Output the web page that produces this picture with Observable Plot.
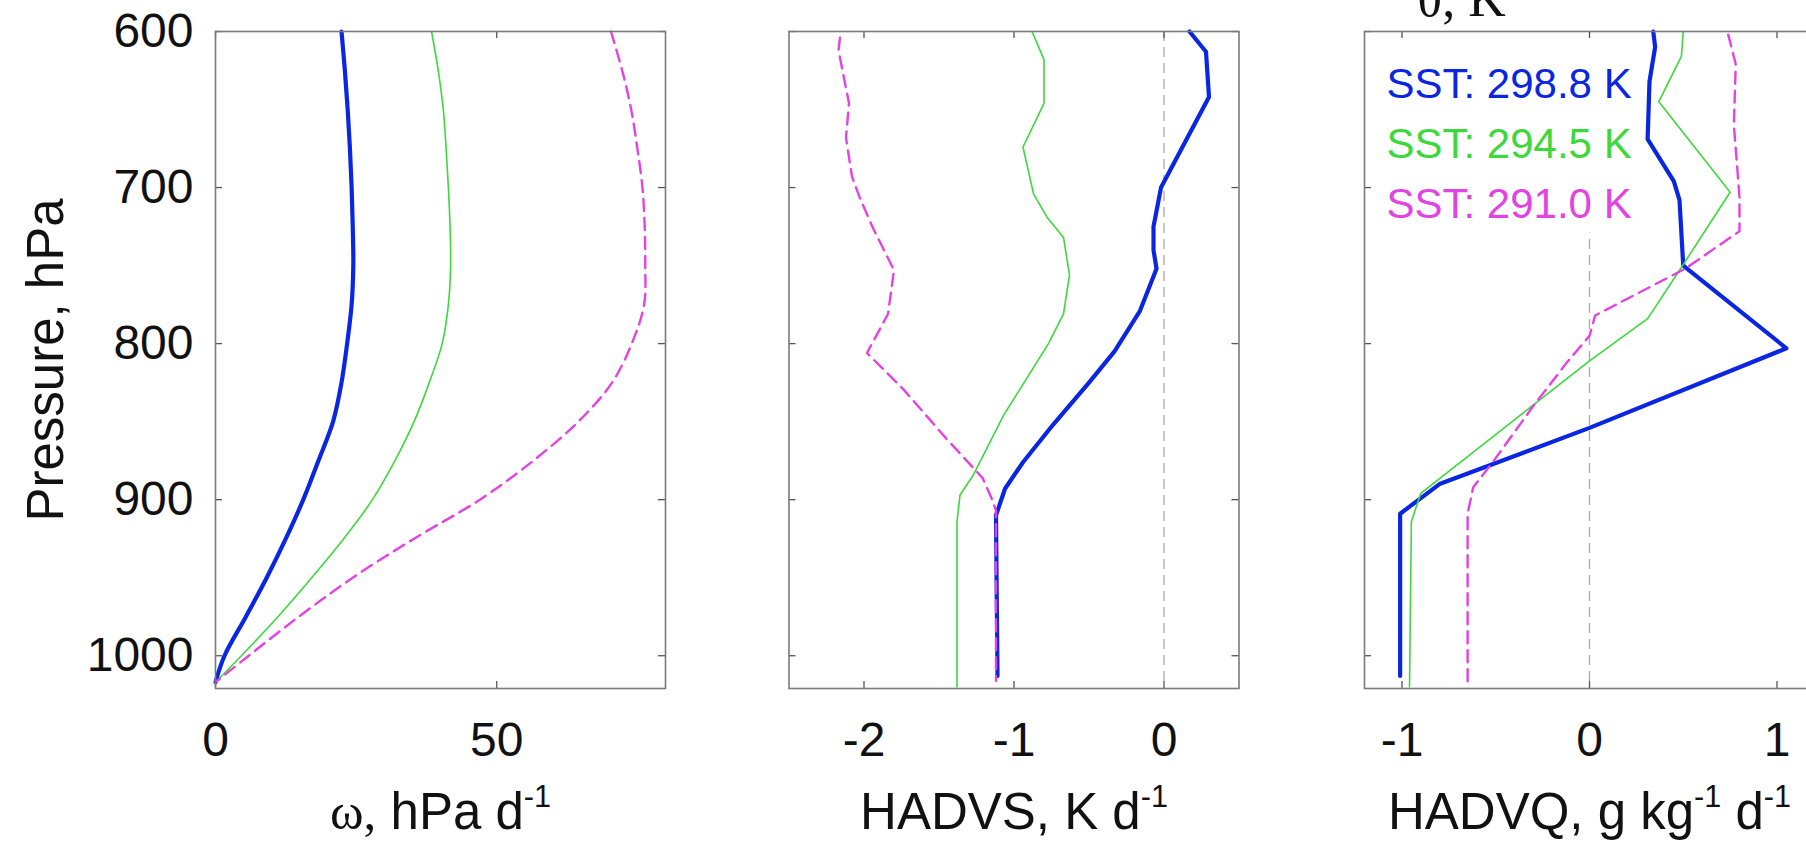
<!DOCTYPE html>
<html>
<head>
<meta charset="utf-8">
<script src="https://cdn.jsdelivr.net/npm/d3@7"></script>
<script src="https://cdn.jsdelivr.net/npm/@observablehq/plot@0.6"></script>
<style>
html, body { margin: 0; padding: 0; background: #fff; overflow: hidden; }
#chart { position: relative; width: 1806px; height: 855px; overflow: hidden; background: #fff; }
#chart svg { position: absolute; top: 0; }
</style>
</head>
<body>
<div id="chart"></div>
<script>
// ---------------- data ----------------
const pressureTicks = [600, 700, 800, 900, 1000];
const pressureDomain = [600, 1021];

const sstLabels = ["SST: 298.8 K", "SST: 294.5 K", "SST: 291.0 K"];
const sstColors = ["#0a26e2", "#3cd83c", "#e243e2"];

// Panel 1: omega (hPa/day)
const omegaTicks = [0, 50];
const omegaDomain = [0, 80];
const omegaP   = [600, 625, 650, 675, 700, 725, 750, 775, 800, 825, 850, 875, 900, 925, 950, 975, 1000, 1017];
const omega298 = [22.4, 23.0, 23.5, 23.9, 24.2, 24.4, 24.5, 24.2, 23.4, 22.4, 20.9, 18.3, 15.6, 12.5, 9.1, 5.4, 1.6, 0];
const omega294 = [38.4, 39.6, 40.5, 41.0, 41.4, 41.7, 41.8, 41.4, 40.3, 38.0, 35.3, 31.9, 27.9, 22.8, 17.1, 11.1, 4.6, 0];
const omega291 = [70.3, 72.3, 73.9, 75.0, 75.9, 76.3, 76.4, 76.2, 74.0, 70.5, 64.5, 56.5, 47.0, 35.3, 24.4, 14.8, 5.9, 0];

// Panel 2: HADVS (K/day)
const hadvsTicks = [-2, -1, 0];
const hadvsDomain = [-2.5, 0.5];
const hadvsP298 = [600, 613, 642, 700, 725, 740, 752, 779, 805, 825, 852, 876, 893, 910, 1013];
const hadvs298  = [0.17, 0.28, 0.30, -0.02, -0.07, -0.07, -0.05, -0.16, -0.33, -0.50, -0.74, -0.94, -1.06, -1.12, -1.11];
const hadvsP294 = [600, 618, 646, 674, 704, 719, 732, 756, 781, 800, 846, 884, 897, 914, 1020];
const hadvs294  = [-0.88, -0.80, -0.80, -0.94, -0.87, -0.78, -0.67, -0.63, -0.67, -0.77, -1.07, -1.27, -1.36, -1.38, -1.38];
const hadvsP291 = [604, 612, 646, 668, 693, 706, 726, 753, 781, 806, 829, 861, 886, 899, 907, 1016];
const hadvs291  = [-2.16, -2.17, -2.10, -2.12, -2.08, -2.03, -1.94, -1.80, -1.84, -1.98, -1.74, -1.45, -1.21, -1.15, -1.12, -1.12];

// Panel 3: HADVQ (g/kg/day)
const hadvqTicks = [-1, 0, 1];
const hadvqDomain = [-1.2, 1.2];
const hadvqP298 = [600, 610, 632, 669, 696, 708, 750, 803, 854, 877, 890, 909, 1013];
const hadvq298  = [0.34, 0.35, 0.32, 0.31, 0.45, 0.48, 0.50, 1.05, 0.00, -0.51, -0.80, -1.01, -1.01];
const hadvqP294 = [600, 616, 645, 703, 753, 784, 811, 896, 914, 1020];
const hadvq294  = [0.50, 0.49, 0.37, 0.75, 0.48, 0.31, 0.00, -0.90, -0.95, -0.96];
const hadvqP291 = [602, 621, 660, 706, 728, 752, 782, 795, 812, 840, 875, 892, 909, 1017];
const hadvq291  = [0.74, 0.78, 0.77, 0.80, 0.80, 0.51, 0.03, 0.00, -0.12, -0.30, -0.51, -0.62, -0.65, -0.65];

// Text
const yLabel = "Pressure, hPa";
const topLabel = "θ, K";
const xLabel1 = [{t: "ω,", serif: true}, {t: " hPa d"}, {t: "-1", sup: true}];
const xLabel2 = [{t: "HADVS, K d"}, {t: "-1", sup: true}];
const xLabel3 = [{t: "HADVQ, g kg"}, {t: "-1", sup: true}, {t: " d"}, {t: "-1", sup: true}];

// ---------------- style ----------------
const SANS = "'Liberation Sans', Arial, Helvetica, sans-serif";
const SERIF = "'Liberation Serif', 'Times New Roman', serif";
const FRAME = "#7a7a7a";
const TICKFS = 48, LABELFS = 51, LEGENDFS = 42;
const TOP = 31, BOTTOM = 688, H = 855;
const PW = 450, PH = BOTTOM - TOP;
const lineStyles = [
  {stroke: sstColors[0], strokeWidth: 4.2},
  {stroke: sstColors[1], strokeWidth: 1.6},
  {stroke: sstColors[2], strokeWidth: 2.4, strokeDasharray: "12,7"}
];
const fmt = d => String(d);

function rows(ps, vs) { return ps.map((p, i) => ({p, v: vs[i]})); }
const plain = parts => parts.map(d => d.t).join("");

function panel(cfg) {
  const marginLeft = cfg.frameLeft - cfg.svgLeft;
  const marginRight = cfg.svgWidth - marginLeft - PW;
  const marks = [];
  if (cfg.zeroRule) {
    marks.push(Plot.ruleX([0], {stroke: "#a8a8a8", strokeWidth: 1.3, strokeDasharray: "10,6"}));
  }
  cfg.series.forEach((s, i) => {
    marks.push(Plot.line(s, {x: "v", y: "p", curve: cfg.curve || "linear", ...lineStyles[i]}));
  });
  if (cfg.legend) {
    marks.push(Plot.frame({fill: "white", stroke: "none", insetLeft: 10, insetTop: 5, insetRight: 170, insetBottom: BOTTOM - 232}));
    sstLabels.forEach((lab, i) => {
      marks.push(Plot.text([lab], {text: d => d, frameAnchor: "top-left", textAnchor: "start", lineAnchor: "bottom",
        dx: 22, dy: 66 + i * 60, fill: sstColors[i], fontSize: LEGENDFS, fontFamily: SANS}));
    });
    marks.push(Plot.text([topLabel], {text: d => d, frameAnchor: "top-left", textAnchor: "middle", lineAnchor: "bottom",
      dx: 97, dy: -16, fill: "#111", fontSize: 52, fontFamily: SERIF}));
  }
  // inward ticks on all four sides
  marks.push(Plot.tickX(cfg.xTicks, {x: d => d, stroke: "#555", strokeWidth: 1.3, insetTop: PH - 7}));
  marks.push(Plot.tickX(cfg.xTicks, {x: d => d, stroke: "#555", strokeWidth: 1.3, insetBottom: PH - 7}));
  marks.push(Plot.tickY(pressureTicks, {y: d => d, stroke: "#555", strokeWidth: 1.3, insetRight: PW - 7}));
  marks.push(Plot.tickY(pressureTicks, {y: d => d, stroke: "#555", strokeWidth: 1.3, insetLeft: PW - 7}));
  marks.push(Plot.frame({stroke: FRAME, strokeWidth: 1.6}));
  marks.push(Plot.axisX({ticks: cfg.xTicks, tickFormat: fmt, tickSize: 0, tickPadding: 33, fontSize: TICKFS, label: null, fill: "#111"}));
  if (cfg.yAxis) {
    marks.push(Plot.axisY({ticks: pressureTicks, tickFormat: fmt, tickSize: 0, tickPadding: 22, fontSize: TICKFS, label: null, fill: "#111"}));
    marks.push(Plot.text([yLabel], {text: d => d, frameAnchor: "left", textAnchor: "middle", lineAnchor: "middle",
      rotate: -90, dx: -(cfg.frameLeft - 46), dy: 0, fontSize: LABELFS, fontFamily: SANS, fill: "#111"}));
  }
  marks.push(Plot.text([plain(cfg.xLabel)], {text: d => d, frameAnchor: "bottom", textAnchor: "middle", lineAnchor: "bottom", dy: 140,
    fontSize: LABELFS, fontFamily: SANS, fill: "#111"}));

  const svg = Plot.plot({
    width: cfg.svgWidth, height: H,
    marginLeft, marginRight, marginTop: TOP, marginBottom: H - BOTTOM,
    style: {fontFamily: SANS, background: "transparent", maxWidth: "none"},
    x: {domain: cfg.xDomain, axis: null},
    y: {domain: pressureDomain, reverse: true, axis: null},
    marks
  });
  svg.style.position = "absolute";
  svg.style.left = cfg.svgLeft + "px";
  svg.style.top = "0px";
  svg.style.maxWidth = "none";
  // rich x label (serif omega, superscripts)
  const target = plain(cfg.xLabel);
  d3.select(svg).selectAll("text").filter(function() { return this.textContent === target; }).each(function() {
    const t = d3.select(this);
    t.text(null);
    let shifted = false;
    const supSize = LABELFS * 0.6, shift = LABELFS * 0.42;
    for (const part of cfg.xLabel) {
      const ts = t.append("tspan").text(part.t);
      if (part.serif) ts.attr("font-family", SERIF);
      if (part.sup) { ts.attr("font-size", supSize); if (!shifted) { ts.attr("dy", -shift); shifted = true; } }
      else if (shifted) { ts.attr("dy", shift); shifted = false; }
    }
  });
  return svg;
}

const chart = document.getElementById("chart");
chart.appendChild(panel({
  svgLeft: 0, svgWidth: 700, frameLeft: 215, xDomain: omegaDomain, xTicks: omegaTicks,
  series: [rows(omegaP, omega298), rows(omegaP, omega294), rows(omegaP, omega291)],
  curve: "catmull-rom", yAxis: true, xLabel: xLabel1
}));
chart.appendChild(panel({
  svgLeft: 700, svgWidth: 575, frameLeft: 788.5, xDomain: hadvsDomain, xTicks: hadvsTicks,
  series: [rows(hadvsP298, hadvs298), rows(hadvsP294, hadvs294), rows(hadvsP291, hadvs291)],
  zeroRule: true, xLabel: xLabel2
}));
chart.appendChild(panel({
  svgLeft: 1280, svgWidth: 575, frameLeft: 1364, xDomain: hadvqDomain, xTicks: hadvqTicks,
  series: [rows(hadvqP298, hadvq298), rows(hadvqP294, hadvq294), rows(hadvqP291, hadvq291)],
  zeroRule: true, legend: true, xLabel: xLabel3
}));
</script>
</body>
</html>
